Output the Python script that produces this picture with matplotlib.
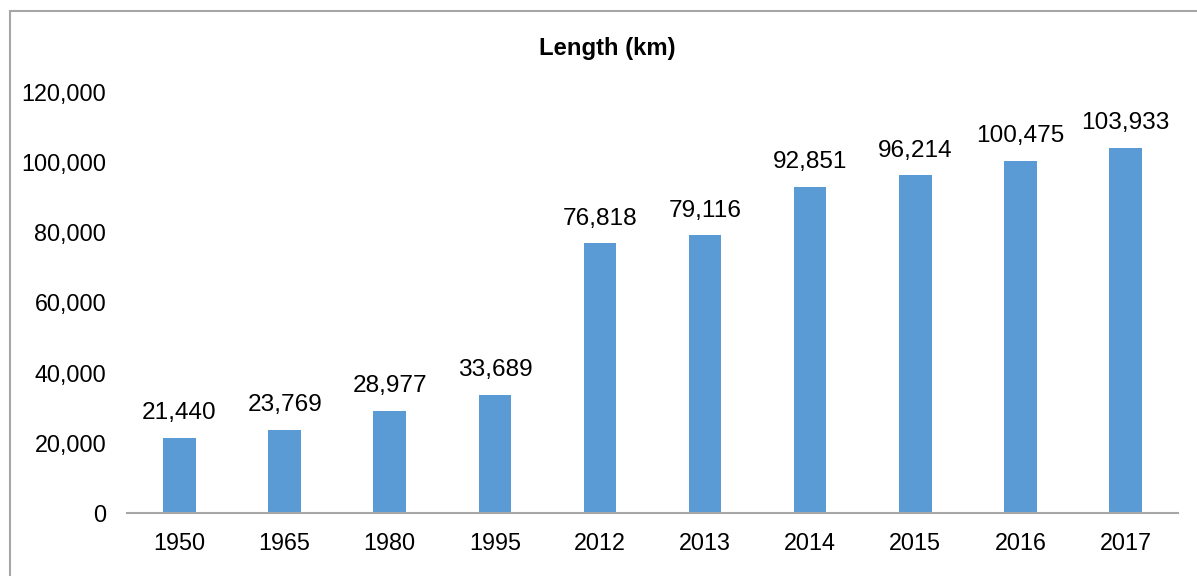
import matplotlib
matplotlib.use("Agg")
import matplotlib.pyplot as plt
from matplotlib.patches import Rectangle
from matplotlib.ticker import FuncFormatter

years = ["1950", "1965", "1980", "1995", "2012", "2013", "2014", "2015", "2016", "2017"]
length_km = [21440, 23769, 28977, 33689, 76818, 79116, 92851, 96214, 100475, 103933]
y_ticks = [0, 20000, 40000, 60000, 80000, 100000, 120000]

plt.rcParams["font.family"] = ["Liberation Sans", "DejaVu Sans"]

fig = plt.figure(figsize=(11.97, 5.76), dpi=100)
ax = fig.add_axes([127 / 1197, 1 - 513 / 576, (1178 - 127) / 1197, (513 - 92) / 576])

x = list(range(len(years)))
ax.bar(x, length_km, width=0.31, color="#5B9BD5", zorder=2)

for xi, v in zip(x, length_km):
    ax.annotate(f"{v:,}", (xi, v), xytext=(0, 10), textcoords="offset points",
                ha="center", va="bottom", fontsize=17.6, color="#000000")

ax.set_xlim(-0.5, len(years) - 0.5)
ax.set_ylim(0, 120000)
ax.set_xticks(x)
ax.set_xticklabels(years)
ax.set_yticks(y_ticks)
ax.yaxis.set_major_formatter(FuncFormatter(lambda v, p: f"{int(v):,}"))
ax.tick_params(axis="both", length=0, labelsize=16.8, colors="#000000")
ax.tick_params(axis="x", pad=14)
ax.tick_params(axis="y", pad=15)

for side in ["top", "right", "left"]:
    ax.spines[side].set_visible(False)
ax.spines["bottom"].set_color("#A6A6A6")
ax.spines["bottom"].set_linewidth(1.5)

fig.text(607.5 / 1197, 1 - 49 / 576, "Length (km)", ha="center", va="center",
         fontsize=17.2, fontweight="bold", color="#000000")

# chart frame
fig.patches.append(Rectangle((10 / 1197, -0.05), 1.1, 1 - 11 / 576 + 0.05,
                             transform=fig.transFigure, fill=False,
                             edgecolor="#A6A6A6", linewidth=1.5))

fig.savefig("out.png", dpi=100)
